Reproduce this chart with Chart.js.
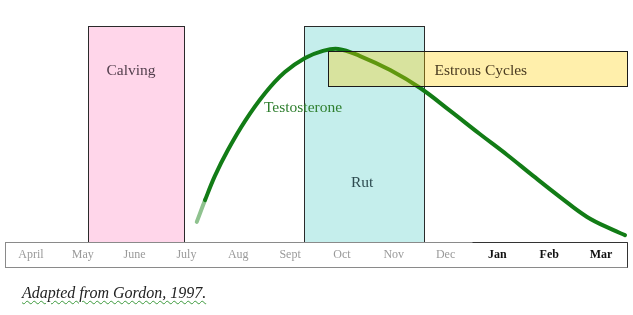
<!DOCTYPE html>
<html>
<head>
<meta charset="utf-8">
<script src="https://cdn.jsdelivr.net/npm/chart.js@4/dist/chart.umd.min.js"></script>
<style>
  html, body { margin: 0; padding: 0; background: #fff; }
  #wrap { position: relative; width: 633px; height: 315px; }
  #note {
    position: absolute; left: 22px; top: 284px;
    font: italic 16px "Liberation Serif", serif; color: #222;
    text-decoration: underline wavy #3c9a3c; text-decoration-thickness: 1px;
    text-underline-offset: 2px;
  }
</style>
</head>
<body>
<div id="wrap">
  <canvas id="chart"></canvas>
  <div id="note">Adapted from Gordon, 1997.</div>
</div>
<script>
// months of the year, April first; Jan–Mar are set in bold
const MONTHS = ['April', 'May', 'June', 'July', 'Aug', 'Sept', 'Oct', 'Nov', 'Dec', 'Jan', 'Feb', 'Mar'];
const BOLD_FROM = 9;

// seasons in month units (0 = start of April)
const CALVING = [1.60, 3.45];
const RUT = [5.77, 8.08];
const ESTROUS = [6.23, 12.0];
const ESTROUS_LEVEL = [72.2, 88.4];

// testosterone curve (relative level 0-100)
const T_MONTH = [3.70, 3.86, 4.05, 4.30, 4.63, 5.02, 5.40, 5.79, 6.12, 6.43, 6.85, 7.43, 8.01, 8.59, 9.16, 9.69, 10.19, 10.71, 11.23, 11.73, 11.96];
const T_LEVEL = [9.3, 19.4, 30.6, 42.6, 56.0, 69.0, 78.7, 85.2, 88.4, 89.4, 86.1, 79.6, 71.3, 60.7, 50.0, 40.3, 30.6, 20.8, 11.6, 5.6, 3.2];

const SERIF = '"Liberation Serif", "DejaVu Serif", serif';
const px = (v) => Math.round(v) + 0.5;

function box(ctx, x, y, fill, stroke) {
  const l = px(x.getPixelForValue(fill.x0)), r = px(x.getPixelForValue(fill.x1));
  const t = px(y.getPixelForValue(fill.y1)), b = px(y.getPixelForValue(fill.y0));
  ctx.fillStyle = fill.color;
  ctx.fillRect(l, t, r - l, b - t);
  ctx.strokeStyle = stroke; ctx.lineWidth = 1;
  ctx.strokeRect(l, t, r - l, b - t);
}

function label(ctx, x, y, text, at, color) {
  ctx.save();
  ctx.font = `15.5px ${SERIF}`;
  ctx.fillStyle = color;
  ctx.textAlign = 'center'; ctx.textBaseline = 'middle';
  ctx.fillText(text, x.getPixelForValue(at[0]), y.getPixelForValue(at[1]));
  ctx.restore();
}

const seasons = {
  id: 'seasons',
  beforeDatasetsDraw(chart) {
    const { ctx, scales: { x, y } } = chart;
    ctx.save();
    box(ctx, x, y, { x0: CALVING[0], x1: CALVING[1], y0: 0, y1: 100, color: '#ffd6ea' }, '#2a2a2a');
    box(ctx, x, y, { x0: RUT[0], x1: RUT[1], y0: 0, y1: 100, color: '#c5eeec' }, '#2a2a2a');
    ctx.restore();
    label(ctx, x, y, 'Calving', [2.43, 79.2], '#54404e');
    label(ctx, x, y, 'Rut', [6.89, 27.3], '#2d4a4f');
  },
  afterDatasetsDraw(chart) {
    const { ctx, scales: { x, y } } = chart;
    ctx.save();
    box(ctx, x, y, { x0: ESTROUS[0], x1: ESTROUS[1], y0: ESTROUS_LEVEL[0], y1: ESTROUS_LEVEL[1], color: 'rgba(255,205,0,0.33)' }, '#1a1a1a');
    ctx.restore();
    label(ctx, x, y, 'Estrous Cycles', [9.18, 79.2], '#4a3b20');
    label(ctx, x, y, 'Testosterone', [5.75, 62.0], '#2f7f2f');
  },
  afterDraw(chart) {
    // month strip frame
    const { ctx, scales: { x } } = chart;
    const l = px(x.left), r = px(x.right), t = px(x.top), b = px(x.bottom);
    ctx.save();
    ctx.lineWidth = 1;
    ctx.strokeStyle = '#8a8a8a';
    ctx.strokeRect(l, t, r - l, b - t);
    ctx.strokeStyle = '#333';
    ctx.beginPath();
    ctx.moveTo(px(x.getPixelForValue(BOLD_FROM)), t); ctx.lineTo(r, t);
    ctx.moveTo(r, t); ctx.lineTo(r, b);
    ctx.stroke();
    ctx.restore();
  },
};

new Chart(document.getElementById('chart'), {
  type: 'line',
  data: {
    datasets: [{
      label: 'Testosterone',
      data: T_MONTH.map((m, i) => ({ x: m, y: T_LEVEL[i] })),
      borderColor: '#127c16',
      borderWidth: 4,
      borderCapStyle: 'round',
      tension: 0.4,
      pointRadius: 0,
      fill: false,
      segment: { borderColor: (c) => c.p0DataIndex === 0 ? '#8fc28f' : undefined },
    }],
  },
  options: {
    responsive: true,
    maintainAspectRatio: false,
    animation: false,
    layout: { padding: { left: 5, right: 6, top: 26, bottom: 48 } },
    plugins: { legend: { display: false }, tooltip: { enabled: false } },
    scales: {
      x: {
        type: 'linear', min: 0, max: 12,
        afterBuildTicks: (s) => { s.ticks = MONTHS.map((_, i) => ({ value: i + 0.5 })); },
        afterFit: (s) => { s.height = 25; },
        grid: { display: false, drawTicks: false },
        border: { display: false },
        ticks: {
          padding: 6, autoSkip: false, maxRotation: 0,
          callback: (v, i) => MONTHS[i],
          color: (c) => c.index >= BOLD_FROM ? '#111' : '#9a9a9a',
          font: (c) => ({ family: SERIF, size: 12, weight: c.index >= BOLD_FROM ? 'bold' : 'normal' }),
        },
      },
      y: { min: 0, max: 100, display: false },
    },
  },
  plugins: [seasons],
});
</script>
</body>
</html>
